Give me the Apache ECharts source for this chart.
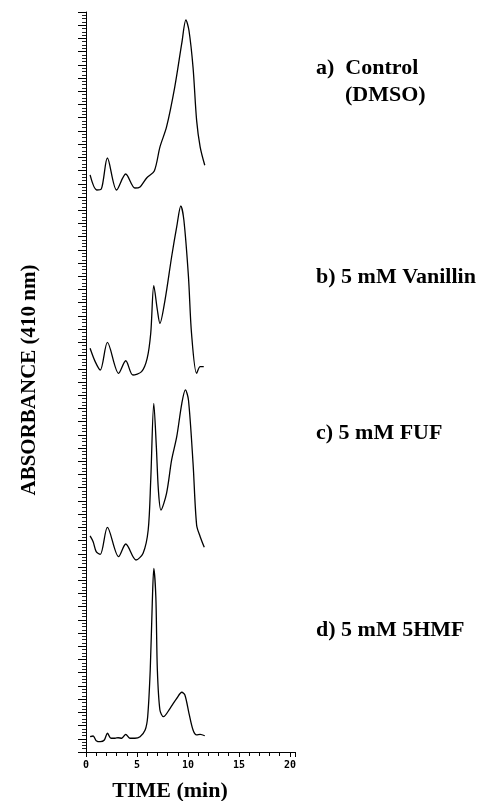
<!DOCTYPE html>
<html>
<head>
<meta charset="utf-8">
<script src="https://cdn.jsdelivr.net/npm/echarts@6/dist/echarts.min.js"></script>
<style>
  html, body { margin: 0; padding: 0; background: #fff; }
  #chart { width: 484px; height: 801px; }
</style>
</head>
<body>
<div id="chart"></div>
<script>
// retention time (min) and absorbance (arbitrary units)
const timeA = [0.4, 1.05, 1.5, 2.1, 3.0, 3.9, 4.8, 5.3, 5.95, 6.7, 7.25, 7.9, 8.7, 9.4, 9.8, 10.1, 10.5, 10.85, 11.2, 11.65];
const absA  = [16.7, 5.3, 6, 29.5, 5.3, 17.4, 6.8, 7.6, 14.4, 19.7, 37.8, 53, 83, 116.6, 134, 126, 98, 58, 37.8, 24];

const timeB = [0.4, 0.9, 1.4, 2.1, 3.2, 3.9, 4.6, 5.45, 6.0, 6.35, 6.65, 7.0, 7.25, 7.75, 8.4, 8.9, 9.3, 9.6, 10.05, 10.35, 10.85, 11.2, 11.55];
const absB  = [25.5, 15.4, 9.1, 30, 6.6, 16.1, 5.3, 7.8, 17.9, 36.9, 72.9, 54.5, 44.4, 62, 94.8, 117.5, 133.2, 122.6, 79.7, 36.9, 6.6, 11.6, 11.6];

const timeC = [0.4, 0.7, 1.0, 1.4, 2.1, 3.2, 3.9, 4.9, 5.6, 6.1, 6.35, 6.65, 6.9, 7.1, 7.35, 7.9, 8.4, 8.9, 9.4, 9.75, 10.05, 10.5, 10.85, 11.2, 11.6];
const absC  = [23.5, 19.1, 11.6, 9.6, 30, 7.8, 17.4, 5.3, 10.4, 28, 65.8, 123.9, 91, 58.3, 43.1, 55.8, 81, 98.6, 123.9, 134, 126.4, 78.5, 31.8, 22.9, 14.9];

const timeD = [0.4, 0.7, 1.0, 1.4, 1.8, 2.1, 2.45, 2.85, 3.15, 3.5, 3.9, 4.3, 4.8, 5.3, 5.8, 6.05, 6.3, 6.5, 6.65, 6.85, 7.0, 7.25, 7.6, 8.25, 8.9, 9.4, 9.7, 10.1, 10.5, 10.85, 11.2, 11.65];
const absD  = [11.6, 12.1, 8.6, 7.8, 9.1, 14.2, 10.4, 10.4, 10.8, 10.4, 13.4, 10.4, 10.4, 11.6, 16.6, 26.7, 62, 112.5, 139, 117.5, 62, 31.8, 26.7, 33.1, 40.6, 45.2, 43.1, 29.3, 16.6, 12.9, 13.4, 12.3];

const traceLabels = ['a)  Control', 'b) 5 mM Vanillin', 'c) 5 mM FUF', 'd) 5 mM 5HMF'];
const xTickLabels = [0, 5, 10, 15, 20];

const traces = [[timeA, absA], [timeB, absB], [timeC, absC], [timeD, absD]];

const chart = echarts.init(document.getElementById('chart'), null, { renderer: 'canvas' });

const panelTop = 12, panelH = 185;
const serif = '"Liberation Serif", "Times New Roman", serif';

const grids = [], xAxes = [], yAxes = [], series = [];
traces.forEach((tr, i) => {
  grids.push({ left: 86, width: 209, top: panelTop + i * panelH, height: panelH });
  const last = i === traces.length - 1;
  xAxes.push({
    type: 'value', gridIndex: i, min: 0, max: 20.5, interval: 5,
    show: last,
    axisLine: { onZero: false, lineStyle: { color: '#000', width: 1 } },
    axisTick: { length: 5, lineStyle: { color: '#000' } },
    minorTick: { show: true, splitNumber: 5, length: 4, lineStyle: { color: '#000' } },
    splitLine: { show: false },
    axisLabel: {
      showMaxLabel: false,
      formatter: v => xTickLabels.includes(v) ? String(v) : '',
      fontFamily: '"DejaVu Sans Mono", monospace', fontWeight: 'bold', fontSize: 10,
      color: '#000', margin: 8
    }
  });
  yAxes.push({
    type: 'value', gridIndex: i, min: 0, max: 140, interval: 10,
    axisLine: { show: true, lineStyle: { color: '#000', width: 1 } },
    axisTick: { show: true, length: 8, lineStyle: { color: '#000' } },
    minorTick: { show: true, splitNumber: 4, length: 4, lineStyle: { color: '#222' } },
    splitLine: { show: false },
    axisLabel: { show: false }
  });
  series.push({
    type: 'line', xAxisIndex: i, yAxisIndex: i,
    data: tr[0].map((t, k) => [t, tr[1][k]]),
    smooth: 0.3, showSymbol: false, clip: false,
    lineStyle: { color: '#000', width: 1.3 }
  });
});

const labelY = [68, 277, 433, 630];
const graphics = [
  { type: 'text', x: 30, y: 380, rotation: Math.PI / 2,
    style: { text: 'ABSORBANCE (410 nm)', font: 'bold 21px ' + serif, fill: '#000', textAlign: 'center', textVerticalAlign: 'middle' } },
  { type: 'text', x: 170, y: 791,
    style: { text: 'TIME (min)', font: 'bold 22px ' + serif, fill: '#000', textAlign: 'center', textVerticalAlign: 'middle' } },
  { type: 'text', x: 345, y: 95,
    style: { text: '(DMSO)', font: 'bold 22px ' + serif, fill: '#000', textAlign: 'left', textVerticalAlign: 'middle' } }
];
traceLabels.forEach((t, i) => {
  graphics.push({ type: 'text', x: 316, y: labelY[i],
    style: { text: t, font: 'bold 22px ' + serif, fill: '#000', textAlign: 'left', textVerticalAlign: 'middle' } });
});

chart.setOption({
  animation: false,
  backgroundColor: '#fff',
  grid: grids,
  xAxis: xAxes,
  yAxis: yAxes,
  series: series,
  graphic: graphics
});
</script>
</body>
</html>
